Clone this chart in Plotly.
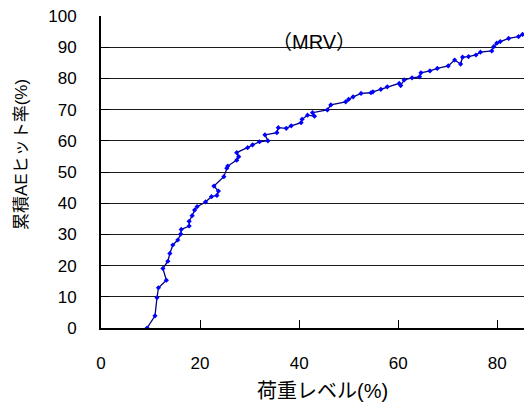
import plotly.graph_objects as go

load_level = [9.3, 10.9, 11.3, 11.6, 13.2, 12.5, 13.5, 13.9, 14.5, 15.5,
              16.1, 16.2, 17.8, 17.8, 18.4, 18.9, 19.4, 21.1, 22.3, 23.4,
              23.7, 22.8, 24.8, 25.4, 25.6, 27.4, 27.8, 27.4, 29.6, 30.6,
              32.0, 33.7, 33.1, 35.5, 35.8, 37.4, 38.4, 40.4, 40.6, 41.7,
              43.1, 42.7, 45.7, 46.4, 49.4, 50.0, 50.9, 52.5, 54.5, 54.9,
              56.5, 57.8, 60.2, 60.5, 61.2, 62.8, 64.3, 64.6, 66.4, 67.9,
              70.1, 71.4, 72.6, 73.0, 74.2, 75.7, 76.6, 78.9, 79.3, 79.9,
              80.6, 82.3, 84.3, 85.1]
hit_rate = [0.0, 3.9, 9.7, 12.9, 15.3, 19.1, 21.4, 23.9, 26.6, 28.2,
            30.1, 31.6, 32.7, 34.2, 36.0, 37.8, 38.9, 40.4, 42.1, 42.5,
            43.9, 45.5, 48.5, 51.2, 51.9, 53.8, 54.9, 56.2, 57.8, 58.7,
            59.7, 60.0, 61.9, 62.6, 64.2, 64.0, 64.8, 65.8, 66.9, 68.2,
            67.9, 69.0, 69.9, 71.5, 72.5, 73.3, 74.1, 75.2, 75.4, 75.7,
            76.5, 77.3, 78.4, 77.7, 79.5, 80.2, 80.5, 81.8, 82.4, 83.2,
            84.0, 85.9, 84.6, 86.8, 87.0, 87.5, 88.4, 88.8, 90.2, 91.3,
            91.8, 92.8, 93.4, 94.1]

x_ticks = [0, 20, 40, 60, 80]
y_ticks = [0, 10, 20, 30, 40, 50, 60, 70, 80, 90, 100]

FONT = "Arial, 'Liberation Sans', 'Noto Sans CJK JP', sans-serif"
L, R, T, B, W, H = 101, 0, 16, 77, 524, 405
pw, ph = W - L - R, H - T - B


def px_to_paper(px, py):
    return (px - L) / pw, (H - B - py) / ph


fig = go.Figure()
fig.add_trace(go.Scatter(
    x=load_level, y=hit_rate, mode="lines+markers",
    line=dict(color="#000080", width=1.3),
    marker=dict(color="#0000FF", size=4, symbol="diamond"),
    showlegend=False,
))

xt_x, xt_y = px_to_paper(322, 391)
yt_x, yt_y = px_to_paper(21, 155)

fig.update_layout(
    width=W, height=H,
    margin=dict(l=L, r=R, t=T, b=B),
    paper_bgcolor="white", plot_bgcolor="white",
    font=dict(family=FONT, size=15, color="black"),
    xaxis=dict(range=[0, 85.4], tickvals=x_ticks, ticks="inside", ticklen=8,
               tickcolor="black", showgrid=False, zeroline=False,
               showline=True, linecolor="black", linewidth=2,
               ticklabelstandoff=19, tickfont=dict(size=17)),
    yaxis=dict(range=[0, 100], tickvals=y_ticks, ticks="inside", ticklen=8,
               tickcolor="black", showgrid=True, gridcolor="#1a1a1a",
               gridwidth=1, zeroline=False, showline=True, linecolor="black",
               linewidth=2, ticklabelstandoff=19, tickfont=dict(size=17)),
    annotations=[
        dict(text="（MRV）", x=43, y=91.8, xref="x", yref="y",
             xanchor="center", yanchor="middle",
             showarrow=False, font=dict(size=20)),
        dict(text="荷重レベル(%)", x=xt_x, y=xt_y, xref="paper", yref="paper",
             xanchor="center", yanchor="middle",
             showarrow=False, font=dict(size=20)),
        dict(text="累積AEヒット率(%)", x=yt_x, y=yt_y, xref="paper", yref="paper",
             xanchor="center", yanchor="middle",
             showarrow=False, textangle=-90, font=dict(size=17)),
    ],
)
fig.write_html("out.html")
